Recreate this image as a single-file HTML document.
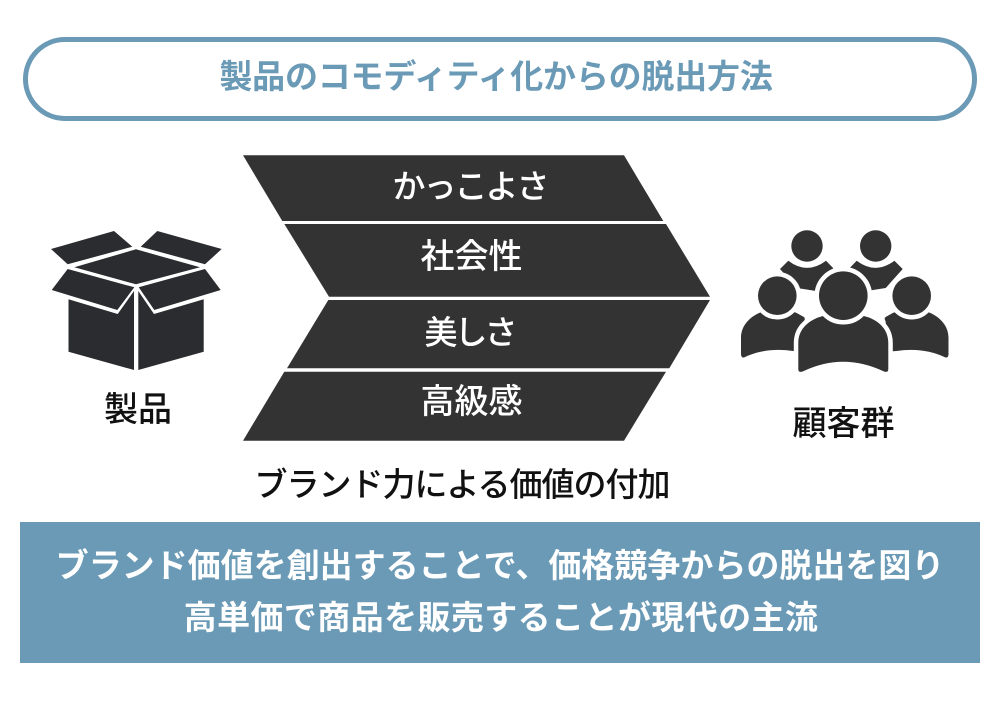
<!DOCTYPE html>
<html lang="ja"><head><meta charset="utf-8"><style>
html,body{margin:0;padding:0;background:#fff;width:1000px;height:710px;overflow:hidden}
svg{display:block}
text{font-family:"Liberation Sans","Noto Sans CJK JP",sans-serif;text-anchor:middle;font-size:33px;font-weight:500}
.k{font-size:34px}
.b{font-weight:700}
</style></head><body>
<svg width="1000" height="710" viewBox="0 0 1000 710" xmlns="http://www.w3.org/2000/svg">
<rect width="1000" height="710" fill="#fff"/>
<rect x="25.5" y="39.5" width="949" height="79" rx="39.5" ry="39.5" fill="#fff" stroke="#6a9ab6" stroke-width="5"/>
<text class="b" x="496" y="88" fill="#6a9ab6" style="letter-spacing:-.2px">製品のコモディティ化からの脱出方法</text>

<g fill="#333333">
<polygon points="243,155.3 624,155.3 663.3,221 282.3,221"/>
<polygon points="284.3,224 666,224 710,296.7 329,296.7"/>
<polygon points="328.3,300 710,300 669.3,368.3 287,368.3"/>
<polygon points="284.3,371.7 666,371.7 624,440.7 243,440.7"/>
</g>
<g fill="#fff">
<text x="470" y="198" style="letter-spacing:-2px">かっこよさ</text>
<text class="k" x="471.500" y="268">社会性</text>
<text x="469.500" y="344" style="letter-spacing:-3px">美しさ</text>
<text class="k" x="471.500" y="413">高級感</text>
</g>

<g fill="#2b2c30">
<polygon points="51,249 114,231 132.3,246.700 67.700,264.300"/>
<polygon points="140.700,246.700 157.300,231 221.700,249 205,264.300"/>
<polygon points="136,249.300 200,267.300 136,284.300 74.300,267.300"/>
<polygon points="67.700,269 134.300,287.300 117.300,310 51.700,290"/>
<polygon points="205,269 138.700,287.300 154.300,310 220.700,290"/>
<polygon points="68.500,299.300 117.700,314 134,291 134,370 68.500,351.700"/>
<polygon points="138.300,291 154,314 203.700,299.300 203.700,351.700 138.300,370"/>
</g>
<text class="k" x="138" y="421" fill="#111">製品</text>

<g fill="#333333">
<path id="bk" d="M780,269 L788.300,260.700 Q807,275 826,260.700 L833.300,268.300 L816,291 L797,288 Z"/>
<path d="M780,269 L788.300,260.700 Q807,275 826,260.700 L833.300,268.300 L816,291 L797,288 Z" transform="translate(1682.700,0) scale(-1,1)"/>
<g stroke="#fff" stroke-width="8" paint-order="stroke">
<circle cx="807" cy="246" r="15.700"/>
<circle cx="875.700" cy="246" r="15.700"/>
</g>
<path d="M741,354 L741,338 C741,326 749,318 758,313.500 L777,305 L796.700,313 L803,316.500 Q806,318 804,321 L800,351.500 L793,351 Q766,347 744,357.500 Q741,358 741,354 Z"/>
<path d="M741,354 L741,338 C741,326 749,318 758,313.500 L777,305 L796.700,313 L803,316.500 Q806,318 804,321 L800,351.500 L793,351 Q766,347 744,357.500 Q741,358 741,354 Z" transform="translate(1689.500,0) scale(-1,1)"/>
<g stroke="#fff" stroke-width="9" paint-order="stroke">
<circle cx="777.300" cy="295.700" r="19.300"/>
<circle cx="911.700" cy="295.700" r="19.300"/>
<path d="M798.300,369 L798.300,343 C798.300,330 807,322 818,317.500 L843,310 L869,317.500 C880,322 888.300,330 888.300,343 L888.300,369 Q888.300,373 884,371.500 Q843,352 802.700,371.500 Q798.300,373 798.300,369 Z"/>
<circle cx="843.300" cy="295.700" r="24.300"/>
</g>
</g>
<text class="k" x="843.500" y="435" fill="#111">顧客群</text>

<text x="462" y="496" fill="#111" style="letter-spacing:-1px">ブランド力による価値の付加</text>

<rect x="20" y="522" width="960" height="141" fill="#6a9ab6"/>
<text class="b" x="500" y="577" fill="#fff">ブランド価値を創出することで、価格競争からの脱出を図り</text>
<text class="b" x="501" y="629" fill="#fff" style="letter-spacing:.4px">高単価で商品を販売することが現代の主流</text>
</svg>
</body></html>
